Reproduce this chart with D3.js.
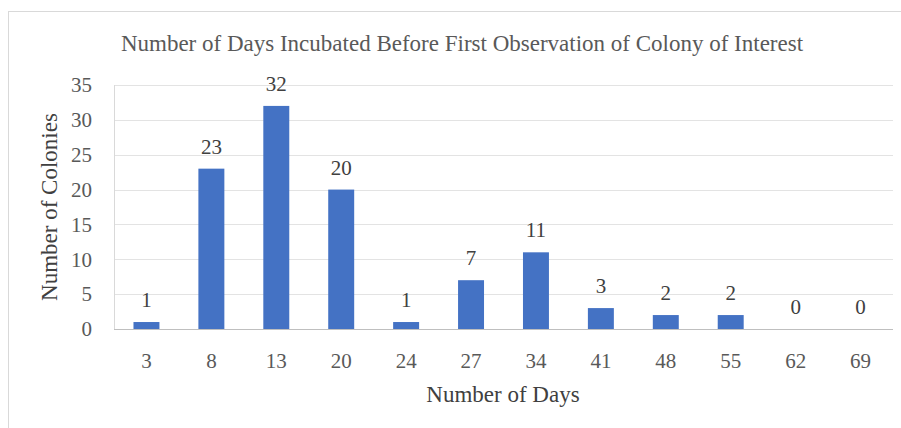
<!DOCTYPE html>
<html>
<head>
<meta charset="utf-8">
<script src="https://cdn.jsdelivr.net/npm/d3@7"></script>
<style>
  body { margin: 0; background: #fff; }
  text { font-family: "Liberation Serif", serif; }
</style>
</head>
<body>
<svg id="chart" width="901" height="428"></svg>
<script>
// données
const jours = ["3", "8", "13", "20", "24", "27", "34", "41", "48", "55", "62", "69"];
const colonies = [1, 23, 32, 20, 1, 7, 11, 3, 2, 2, 0, 0];
const yTicks = [0, 5, 10, 15, 20, 25, 30, 35];

const svg = d3.select("#chart");
const margin = { left: 114, right: 8, top: 85, bottom: 99 };
const width = 901, height = 428;
const bleu = "#4472c4";
const tailleTexte = 21;
const tailleTitre = 23;

// cadre du graphique (coupé à droite et en bas)
svg.append("rect")
  .attr("x", 8.5).attr("y", 11.5)
  .attr("width", 1000).attr("height", 1000)
  .attr("fill", "#fff").attr("stroke", "#d9d9d9");

const x = d3.scaleBand()
  .domain(jours)
  .range([margin.left, width - margin.right])
  .paddingInner(0.6).paddingOuter(0.3);

const y = d3.scaleLinear()
  .domain([0, 35])
  .range([height - margin.bottom, margin.top]);

// grille
svg.append("g")
  .selectAll("line")
  .data(yTicks.slice(1))
  .enter().append("line")
  .attr("x1", margin.left).attr("x2", width - margin.right)
  .attr("y1", d => Math.round(y(d)) + 0.5).attr("y2", d => Math.round(y(d)) + 0.5)
  .attr("stroke", "#e3e3e3");

// axe vertical
svg.append("line")
  .attr("x1", margin.left + 0.5).attr("x2", margin.left + 0.5)
  .attr("y1", y(35)).attr("y2", y(0))
  .attr("stroke", "#d9d9d9");

// barres
svg.append("g")
  .selectAll("rect")
  .data(colonies)
  .enter().append("rect")
  .attr("x", (d, i) => x(jours[i]))
  .attr("y", d => y(d))
  .attr("width", x.bandwidth())
  .attr("height", d => y(0) - y(d))
  .attr("fill", bleu);

// ligne de base
svg.append("line")
  .attr("x1", margin.left).attr("x2", width - margin.right)
  .attr("y1", Math.round(y(0)) + 0.5).attr("y2", Math.round(y(0)) + 0.5)
  .attr("stroke", "#bfbfbf");

// étiquettes de valeurs
svg.append("g")
  .selectAll("text")
  .data(colonies)
  .enter().append("text")
  .attr("x", (d, i) => x(jours[i]) + x.bandwidth() / 2)
  .attr("y", d => y(d) - 15)
  .attr("text-anchor", "middle")
  .attr("font-size", tailleTexte)
  .attr("fill", "#404040")
  .text(d => d);

// axe Y
const yAxis = svg.append("g")
  .attr("transform", `translate(${margin.left - 22},0)`)
  .call(d3.axisLeft(y).tickValues(yTicks).tickSize(0).tickPadding(0));
yAxis.select(".domain").remove();
yAxis.selectAll("text")
  .attr("font-size", tailleTexte)
  .attr("fill", "#595959");

// axe X
const xAxis = svg.append("g")
  .attr("transform", `translate(0,${y(0)})`)
  .call(d3.axisBottom(x).tickSize(0).tickPadding(24));
xAxis.select(".domain").remove();
xAxis.selectAll("text")
  .attr("font-size", tailleTexte)
  .attr("fill", "#595959");
svg.selectAll(".tick text").attr("font-family", "Liberation Serif");

// titres
svg.append("text")
  .attr("x", 462).attr("y", 51)
  .attr("text-anchor", "middle")
  .attr("font-size", tailleTitre)
  .attr("fill", "#595959")
  .text("Number of Days Incubated Before First Observation of Colony of Interest");

svg.append("text")
  .attr("x", 503).attr("y", 402)
  .attr("text-anchor", "middle")
  .attr("font-size", tailleTitre)
  .attr("fill", "#404040")
  .text("Number of Days");

svg.append("text")
  .attr("transform", `translate(57,${y(17.5)}) rotate(-90)`)
  .attr("text-anchor", "middle")
  .attr("font-size", tailleTitre)
  .attr("fill", "#404040")
  .text("Number of Colonies");
</script>
</body>
</html>
